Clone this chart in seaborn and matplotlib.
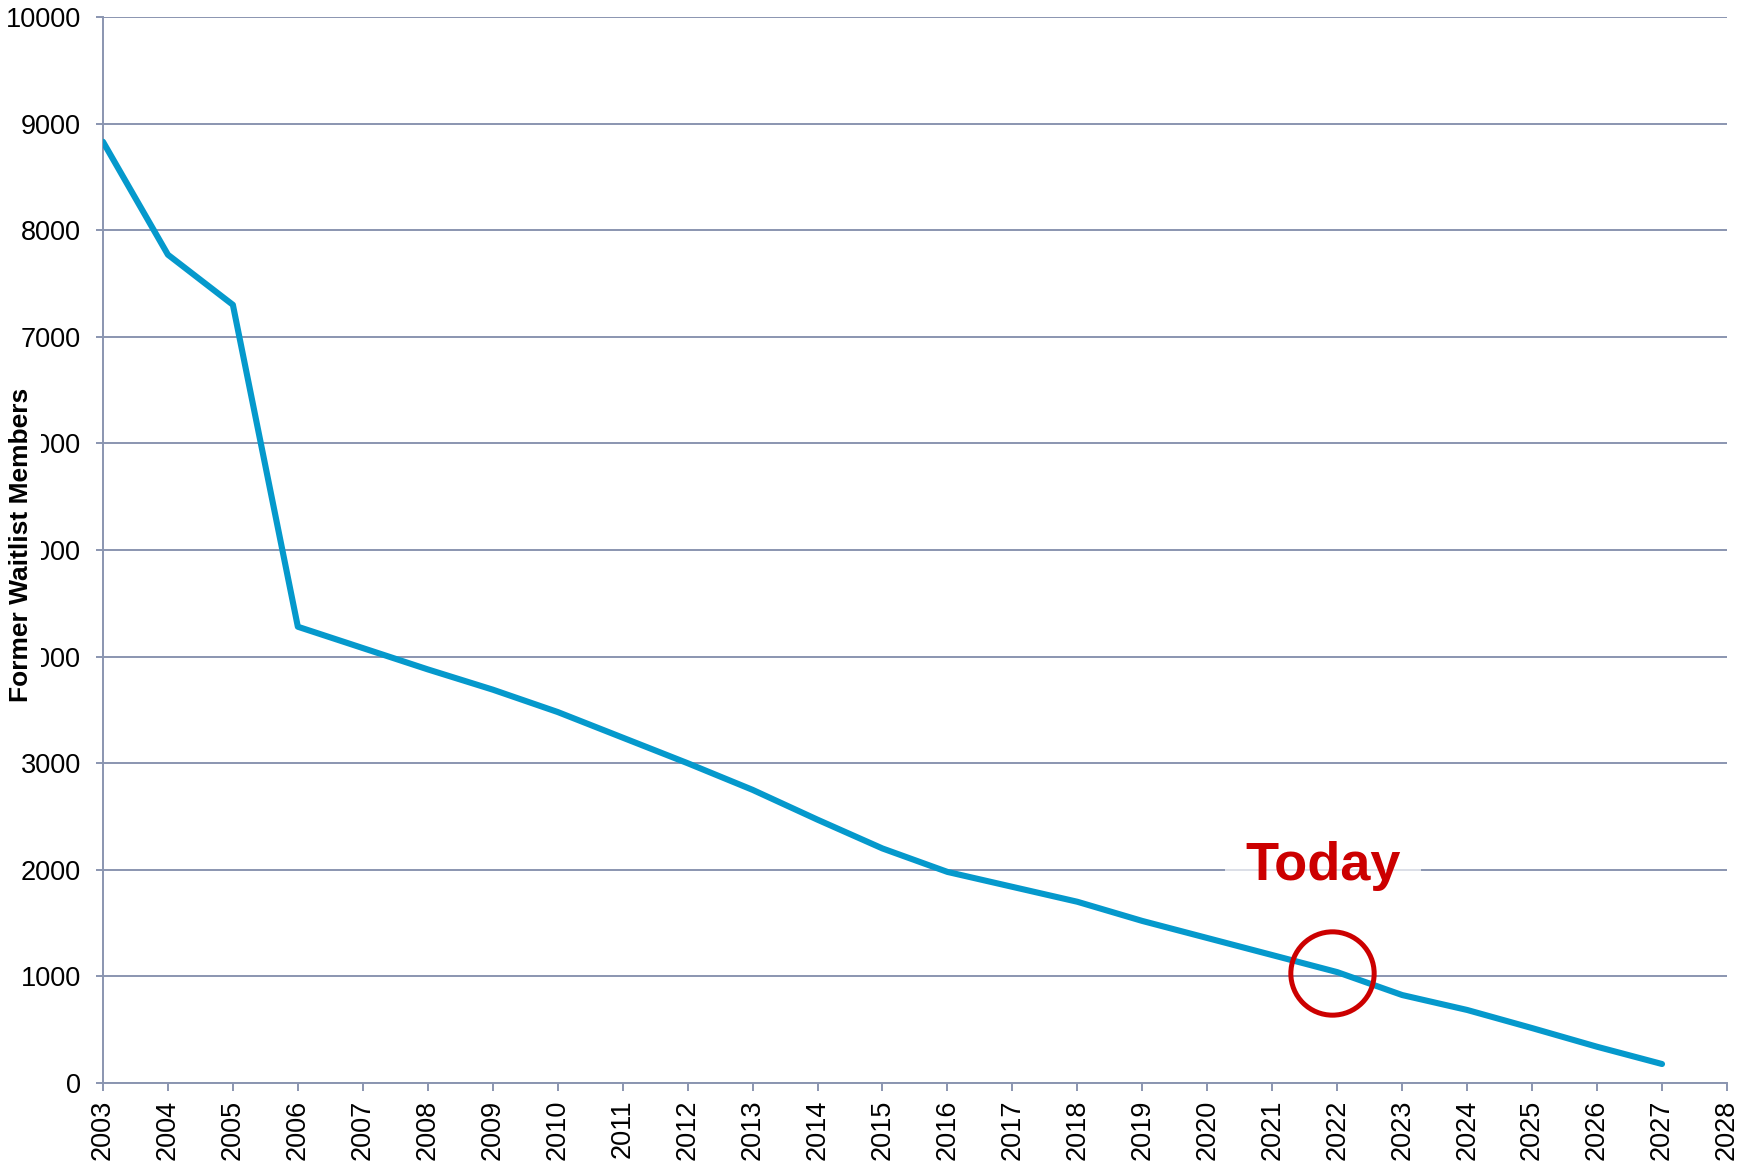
import matplotlib
matplotlib.use("Agg")
import matplotlib.pyplot as plt
import seaborn as sns
import pandas as pd

# Former waitlist members per year
years = list(range(2003, 2028))
members = [8830, 7770, 7300, 4280, 4080, 3880, 3690, 3480, 3240, 3000,
           2750, 2470, 2200, 1980, 1840, 1700, 1520, 1360, 1200, 1040,
           825, 685, 515, 340, 178]

x_ticks = list(range(2003, 2029))
y_ticks = list(range(0, 10001, 1000))

today_year = 2021.92
today_value = 1030

sns.set_theme(style="white")
plt.rcParams["font.family"] = ["Liberation Sans", "DejaVu Sans"]

GRID = "#8a95b0"
LINE = "#0599cc"
RED = "#cc0000"

df = pd.DataFrame({"Year": years, "Members": members})

fig = plt.figure(figsize=(17.54, 11.64), dpi=100)
ax = fig.add_axes([0.0587, 0.0696, 0.9259, 0.9158])

ax.yaxis.grid(True, color=GRID, linewidth=1.4, zorder=0)
ax.set_axisbelow(True)

sns.lineplot(data=df, x="Year", y="Members", ax=ax, color=LINE,
             linewidth=4.4, solid_capstyle="round", zorder=3)

ax.set_xlim(2003, 2028)
ax.set_ylim(0, 10000)
ax.set_xticks(x_ticks)
ax.set_yticks(y_ticks)
ax.set_xticklabels([str(t) for t in x_ticks], rotation=90, fontsize=19.5)
ax.set_yticklabels([str(t) for t in y_ticks], fontsize=19.5)
ax.tick_params(axis="x", length=6, width=1.4, color=GRID, pad=6, direction="out",
               bottom=True, labelcolor="black")
ax.tick_params(axis="y", length=5, width=1.4, color=GRID, pad=11, direction="out",
               left=True, labelcolor="black")

for side in ["top", "right"]:
    ax.spines[side].set_visible(False)
for side in ["left", "bottom"]:
    ax.spines[side].set_color(GRID)
    ax.spines[side].set_linewidth(1.4)

ax.set_xlabel("")
ax.set_ylabel("Former Waitlist Members", fontsize=19, fontweight="bold",
              color="black",
              bbox=dict(facecolor="white", edgecolor="none", boxstyle="square,pad=0.3"))
ax.yaxis.label.set_verticalalignment("center")
ax.yaxis.set_label_coords(-0.0505, 0.505)

# "Today" marker
ax.plot([today_year], [today_value], marker="o", markersize=60,
        markerfacecolor="none", markeredgecolor=RED, markeredgewidth=3.6,
        zorder=4, clip_on=False)
ax.text(2021.78, 1904, "Today", color=RED, fontsize=39, fontweight="bold",
        ha="center", va="baseline", zorder=5,
        bbox=dict(facecolor="white", edgecolor="none", alpha=0.7,
                  boxstyle="square,pad=0.38"))

fig.savefig("out.png", dpi=100, facecolor="white")
